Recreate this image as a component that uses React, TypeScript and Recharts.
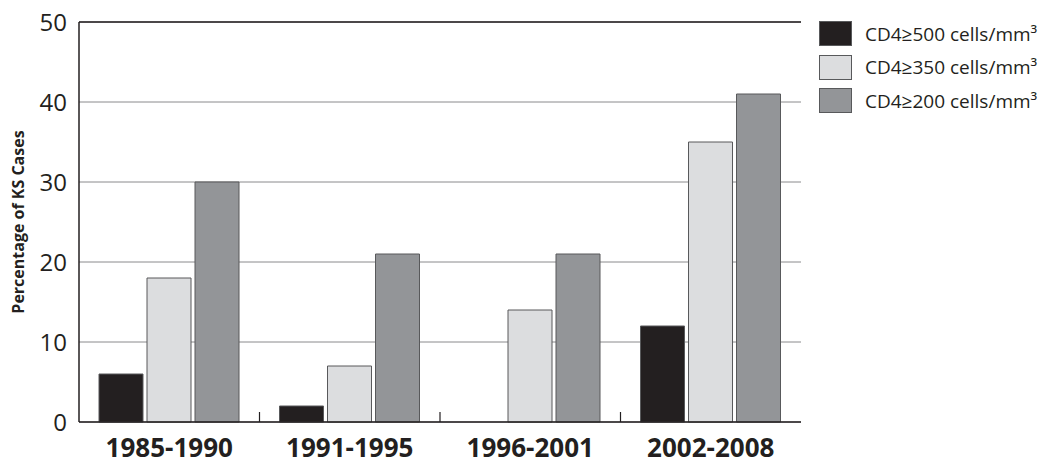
import React from "react"
import {
  Bar,
  BarChart,
  CartesianGrid,
  ReferenceLine,
  XAxis,
  YAxis,
} from "recharts"

const periods = ["1985-1990", "1991-1995", "1996-2001", "2002-2008"]
const cd4Above500 = [6, 2, 0, 12]
const cd4Above350 = [18, 7, 14, 35]
const cd4Above200 = [30, 21, 21, 41]
const yTicks = [0, 10, 20, 30, 40, 50]

const series = [
  { key: "cd500", name: "CD4≥500 cells/mm³", color: "#231f20", values: cd4Above500 },
  { key: "cd350", name: "CD4≥350 cells/mm³", color: "#dcdddf", values: cd4Above350 },
  { key: "cd200", name: "CD4≥200 cells/mm³", color: "#939598", values: cd4Above200 },
]

const data = periods.map((period, i) => {
  const row: Record<string, string | number> = { period }
  series.forEach((s) => {
    row[s.key] = s.values[i]
  })
  return row
})

const FONT = "'Open Sans', 'Noto Sans', sans-serif"
const INK = "#231f20"

// category label plus the little divider tick on the left edge of each band
function PeriodTick(props: any) {
  const { x, y, payload, index } = props
  const half = payload && payload.offset ? payload.offset : 90.25
  return (
    <g>
      {index > 0 && (
        <line x1={x - half} x2={x - half} y1={y} y2={y - 10} stroke={INK} strokeWidth={1.2} />
      )}
      <text
        x={x}
        y={y + 35}
        textAnchor="middle"
        fill={INK}
        fontFamily={FONT}
        fontWeight={700}
        fontSize={26}
      >
        {payload.value}
      </text>
    </g>
  )
}

export default function App() {
  return (
    <div style={{ position: "absolute", left: 0, top: 0, width: 1050, height: 470, background: "#fff" }}>
      <BarChart
        width={1050}
        height={470}
        data={data}
        margin={{ top: 22, right: 249, bottom: 0, left: 0 }}
        barCategoryGap={20}
        barGap={4}
      >
        <CartesianGrid vertical={false} stroke="#8a8a8c" strokeWidth={1} />
        <XAxis
          dataKey="period"
          height={48}
          tickLine={false}
          tickSize={0}
          tickMargin={0}
          axisLine={{ stroke: INK, strokeWidth: 1.5 }}
          tick={<PeriodTick />}
          interval={0}
        />
        <YAxis
          domain={[0, 50]}
          ticks={yTicks}
          width={79}
          tickLine={false}
          tickSize={6}
          tickMargin={6}
          axisLine={{ stroke: INK, strokeWidth: 1.5 }}
          tick={{ fill: INK, fontFamily: FONT, fontSize: 24 }}
          label={{
            value: "Percentage of KS Cases",
            angle: -90,
            position: "insideLeft",
            offset: 18,
            style: { fill: INK, fontFamily: FONT, fontWeight: 700, fontSize: 16, textAnchor: "middle" },
          }}
        />
        <YAxis
          yAxisId="frame"
          orientation="right"
          width={0}
          domain={[0, 50]}
          tick={false}
          tickLine={false}
          axisLine={{ stroke: INK, strokeWidth: 1.5 }}
        />
        <ReferenceLine y={50} stroke={INK} strokeWidth={1.5} />
        {series.map((s) => (
          <Bar
            key={s.key}
            dataKey={s.key}
            name={s.name}
            fill={s.color}
            stroke="#58595b"
            strokeWidth={1}
            isAnimationActive={false}
          />
        ))}
      </BarChart>
      <div style={{ position: "absolute", left: 819, top: 17, fontFamily: FONT }}>
        {series.map((s) => (
          <div key={s.key} style={{ display: "flex", alignItems: "center", height: 33.5 }}>
            <div
              style={{
                width: 31,
                height: 23,
                background: s.color,
                border: "1px solid #58595b",
                marginRight: 13,
              }}
            />
            <span style={{ fontSize: 19, color: INK, whiteSpace: "nowrap" }}>{s.name}</span>
          </div>
        ))}
      </div>
    </div>
  )
}
